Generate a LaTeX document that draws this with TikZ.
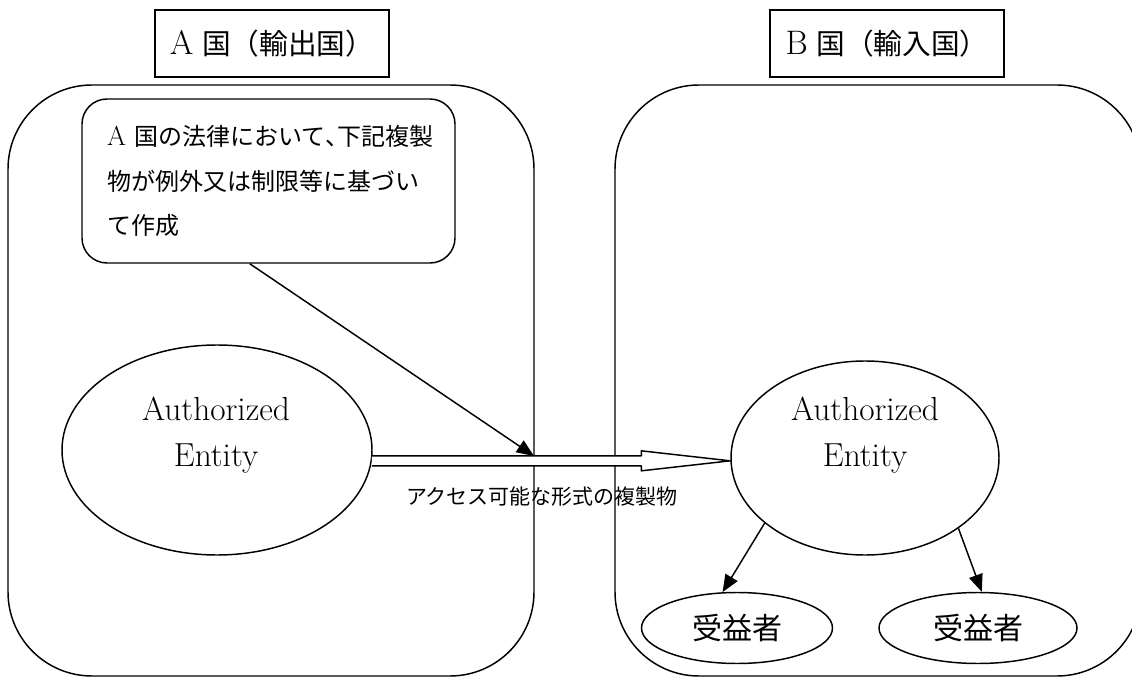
\documentclass[tikz,border=0pt]{standalone}
\usepackage{fontspec}
\newfontfamily\jp{Noto Sans CJK JP}
\usetikzlibrary{shapes.geometric,arrows.meta,calc}
\begin{document}
\begin{tikzpicture}[x=0.75pt,y=-0.75pt,line width=1.1pt,
  titlebox/.style={draw, rectangle, minimum width=175.5pt, minimum height=50.25pt, inner sep=0pt, font=\fontsize{21.5}{26}\selectfont},
  ell/.style={draw, ellipse, inner sep=0pt},
  enttext/.style={anchor=north, inner sep=0pt, align=center, font=\fontsize{25}{34.5}\selectfont},
  bentext/.style={font=\jp\fontsize{22.5}{27}\selectfont},
  tipped/.style={-{Triangle[length=13pt,width=10.5pt]}},
]
\useasboundingbox (0,0) rectangle (1132,677);
\clip (0,0) rectangle (1132,677);
% country containers
\draw[rounded corners=63pt] (8,85) rectangle (534,676);
\draw[rounded corners=63pt] (615,85) rectangle (1141,676);
% titles
\node[titlebox] (tA) at (272,43.5) {{\fontsize{25.5}{26}\selectfont A} {\jp 国（輸出国）}};
\node[titlebox] (tB) at (887,43.5) {{\fontsize{25.5}{26}\selectfont B} {\jp 国（輸入国）}};
% law box
\node[draw, rounded corners=18.75pt, minimum width=279.75pt, minimum height=123pt,
      inner xsep=18.75pt, text width=242pt, align=left,
      font=\fontsize{18}{33.4}\selectfont] (law) at (268.5,181)
  {\makebox[242pt][l]{{\fontsize{20.5}{33.4}\selectfont A}~{\jp 国の法律において\makebox[.5em][l]{、}下記複製}}\\{\jp 物が例外又は制限等に基づい}\\{\jp て作成}};
% entities
\node[ell, minimum width=232.5pt, minimum height=157.5pt] (e1) at (217,450) {};
\node[ell, minimum width=201pt, minimum height=145.5pt] (e2) at (865,458) {};
\node[enttext] (t1) at (216,396) {Authorized\\Entity};
\node[enttext] (t2) at (865,396) {Authorized\\Entity};
% beneficiaries
\node[ell, bentext, minimum width=143.25pt, minimum height=53.25pt] (b1) at (737,628) {受益者};
\node[ell, bentext, minimum width=148.5pt, minimum height=53.25pt] (b2) at (978,628) {受益者};
% block arrow between entities
\coordinate (S) at (e1.-4.5);
\coordinate (T) at (e2.west |- S);
\draw[fill=white, line join=round] ($(S)+(0,-5)$) -- ($(T)+(-89,-5)$) -- ($(T)+(-89,-10)$) -- (T)
   -- ($(T)+(-89,10)$) -- ($(T)+(-89,5)$) -- ($(S)+(0,5)$);
\node[font=\jp\fontsize{15.75}{18}\selectfont, inner sep=0pt] (lab) at (542,497) {アクセス可能な形式の複製物};
% diagonal arrow
\coordinate (ptip) at (534,456);
\draw[tipped] ($(law.south west)!0.45!(law.south east)$) -- (ptip);
% arrows to beneficiaries
\draw[tipped] (e2.213) -- (b1.112);
\draw[tipped] (e2.-37) -- (b2.84);
\end{tikzpicture}
\end{document}
